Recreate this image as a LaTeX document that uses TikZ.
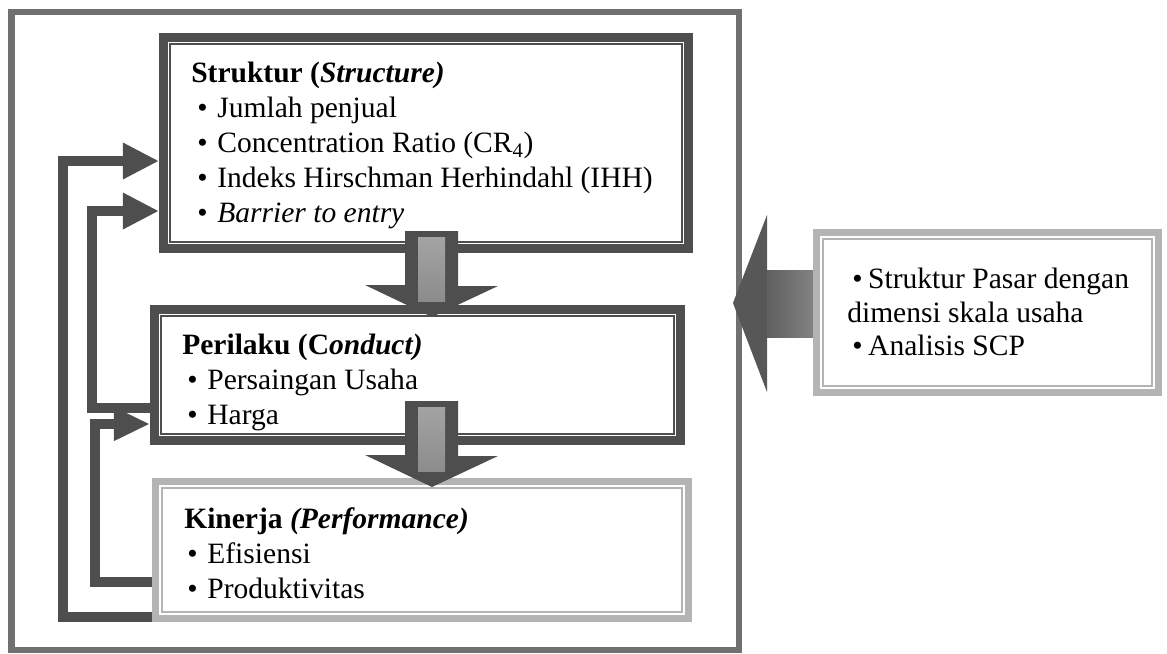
\documentclass[tikz,border=0pt]{standalone}
\usepackage{fontspec}
\setmainfont{Liberation Serif}
\usetikzlibrary{arrows.meta,calc,fit,positioning}
\definecolor{scpdark}{RGB}{78,78,78}
\definecolor{scpframe}{RGB}{112,112,112}
\definecolor{scplight}{RGB}{180,180,180}
\definecolor{scpshaft}{RGB}{140,140,140}
\newlength\scppx \setlength\scppx{0.025cm}
\newcommand\itm[1][0.33em]{\textbullet\hspace{#1}}
% block arrow pointing down, #1 = tip
\newcommand\scpdown[1]{%
  \fill[scpdark] ($(#1)+(-27,-86)$) -- ++(53,0) -- ++(0,55) -- ++(40,0) -- (#1) -- ++(-67,-32) -- ++(40,0) -- cycle;
  \shade[top color=scpshaft!80,bottom color=scpshaft] ($(#1)+(-14,-80)$) rectangle ($(#1)+(13,-16)$);}

\begin{document}
\begin{tikzpicture}[x=0.025cm,y=-0.025cm,
    panel/.style={draw=scpdark,line width=0.225cm,fill=white,inner sep=0pt},
    softpanel/.style={draw=scplight,line width=0.18cm,fill=white,inner sep=0pt},
    txt/.style={align=left,inner sep=0pt,anchor=north west,font=\fontsize{21}{24.9}\selectfont},
    fb/.style={draw=scpdark,line width=0.25cm,-{Triangle[length=0.9cm,width=0.85cm]}}]
  \useasboundingbox (0,0) rectangle (1167,653);
  % frame and side input
  \node[draw=scpframe,line width=0.15cm,inner sep=0pt,fit={(11.5,12) (739,650)}] (outer) {};
  \coordinate (intip) at (733,303);
  \fill[scpdark!95] (intip) -- ++(34,-88) -- ++(0,55) -- ++(60,0) -- ++(0,67) -- ++(-60,0) -- ++(0,55) -- cycle;
  \shade[left color=scpdark!90,right color=scpshaft] (767,270) rectangle (827,337);
  \node[softpanel,fit={(816.5,232.5) (1158.5,392.5)}] (info) {};
  % the three blocks
  \node[panel,fit={(163.5,37.5) (688.5,248.5)}] (struct) {};
  \node[panel,fit={(154.5,309.5) (680.5,440.5)}] (conduct) {};
  \node[softpanel,fit={(155.5,481.5) (688.5,618.5)}] (perf) {};
  \foreach \n in {struct,conduct}
    \draw[scpdark,line width=0.04cm] ($(\n.north west)+(11,11)$) rectangle ($(\n.south east)+(-11,-11)$);
  \foreach \n in {perf,info}
    \draw[scplight,line width=0.04cm] ($(\n.north west)+(10,10)$) rectangle ($(\n.south east)+(-10,-10)$);
  % texts
  \node[txt] (structtxt) at (191,62) {\textbf{Struktur (}\textbf{\textit{Structure)}}\\
    \hspace*{6\scppx}\itm Jumlah penjual\\
    \hspace*{6\scppx}\itm Concentration Ratio (CR\textsubscript{4})\\
    \hspace*{6\scppx}\itm Indeks Hirschman Herhindahl (IHH)\\
    \hspace*{6\scppx}\itm \textit{Barrier to entry}};
  \node[txt] (conducttxt) at (182,334) {\textbf{Perilaku (C\textit{onduct)}}\\
    \hspace*{5\scppx}\itm Persaingan Usaha\\
    \hspace*{5\scppx}\itm Harga};
  \node[txt] (perftxt) at (184,507) {\textbf{Kinerja \textit{(Performance)}}\\
    \hspace*{3\scppx}\itm Efisiensi\\
    \hspace*{3\scppx}\itm Produktivitas};
  \node[txt,font=\fontsize{21}{23.8}\selectfont] (infotxt) at (847,268) {\hspace*{5\scppx}\itm[0.19em]Struktur Pasar dengan\\
    dimensi skala usaha\\
    \hspace*{5\scppx}\itm[0.19em]Analisis SCP};
  % feedback
  \draw[fb] (perf.west |- 0,617) -| (63,161) -- (struct.west |- 0,161);
  \draw[fb] (conduct.west |- 0,408) -| (92,211) -- (struct.west |- 0,211);
  \draw[fb,-{Triangle[length=0.9cm,width=0.78cm]}] (perf.west |- 0,582) -| (95,424) -- (conduct.west |- 0,424);
  % flow down
  \coordinate (d1) at (432,317);
  \coordinate (d2) at (432,487);
  \scpdown{d1}
  \scpdown{d2}
\end{tikzpicture}
\end{document}
